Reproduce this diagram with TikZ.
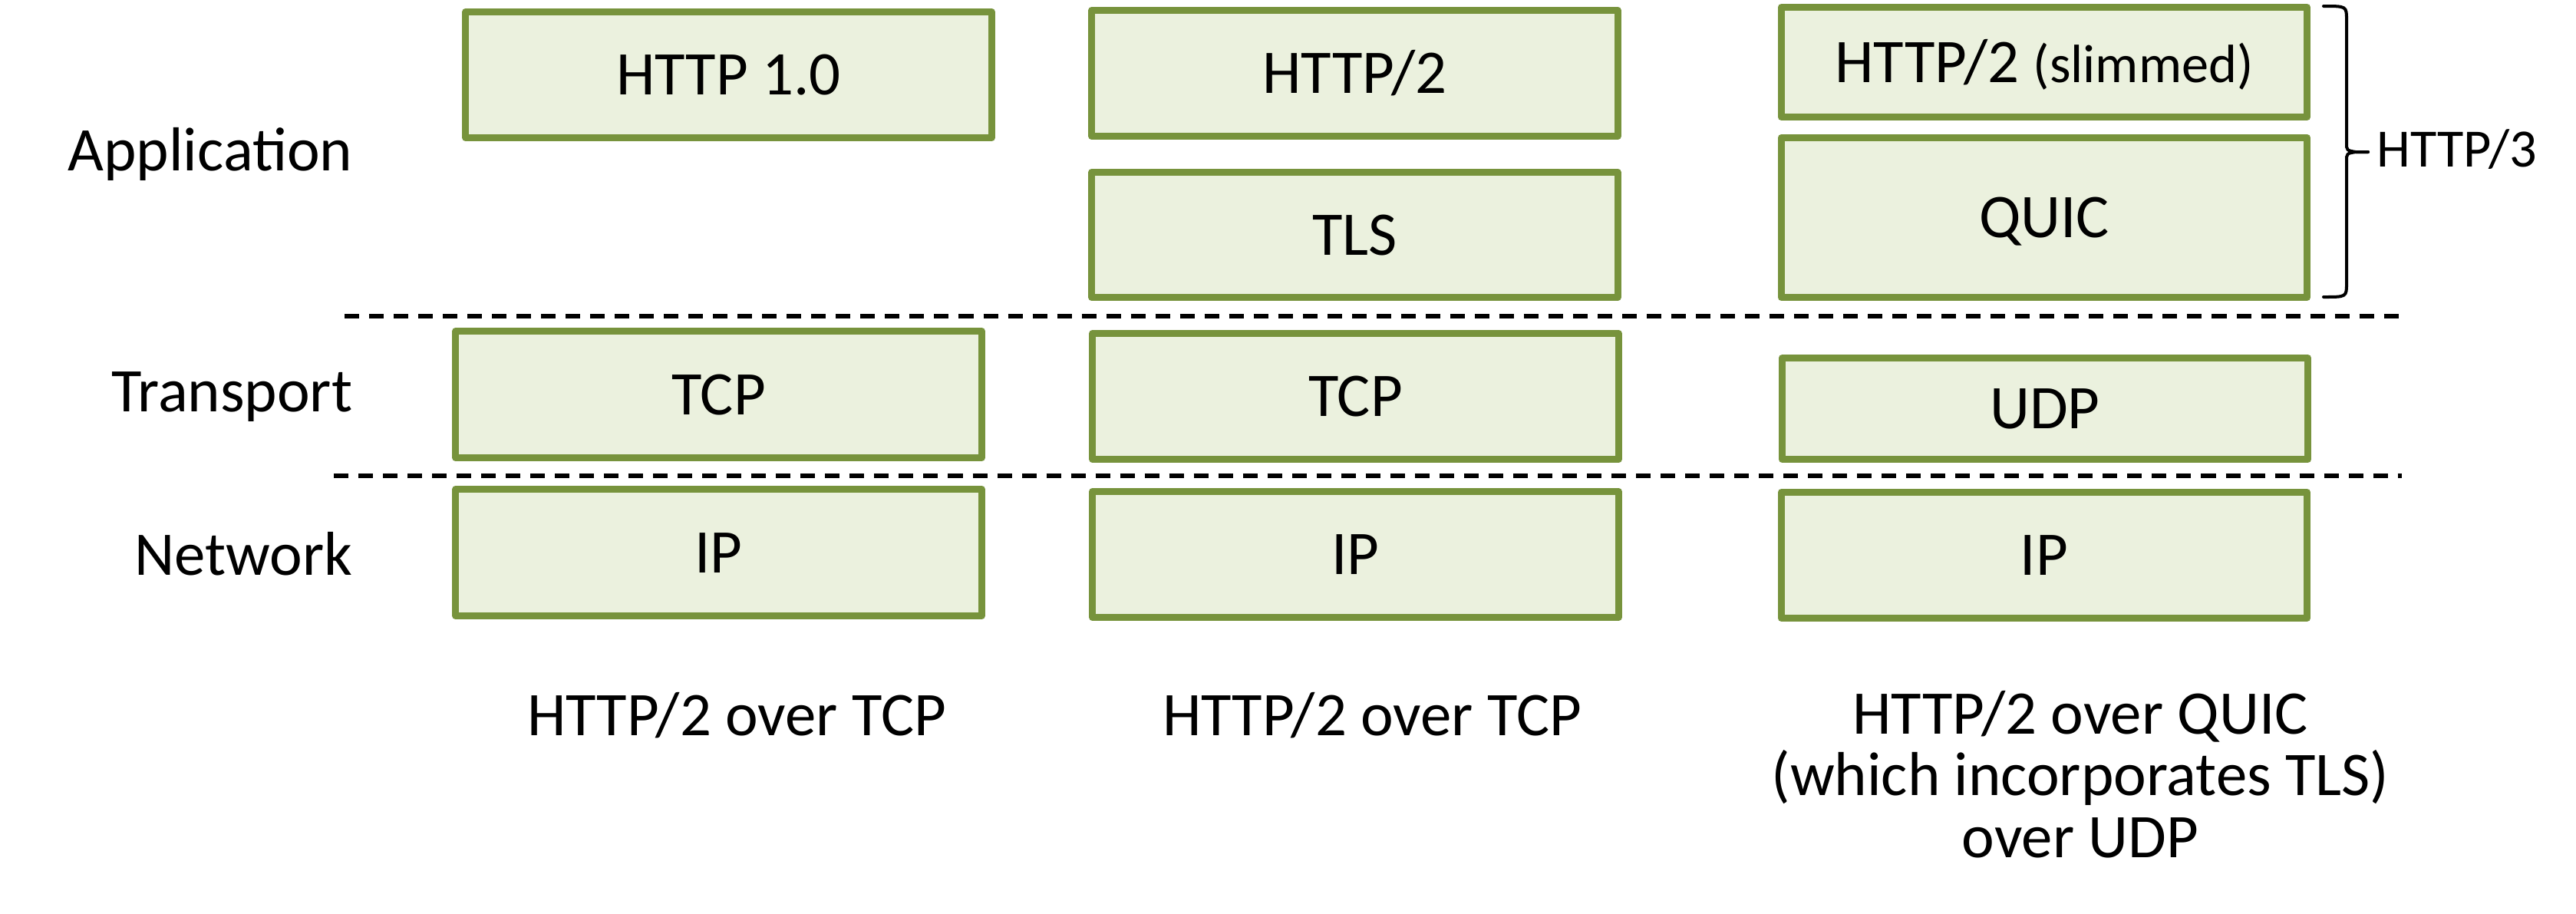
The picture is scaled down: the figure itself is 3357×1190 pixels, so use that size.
\documentclass[tikz,border=0pt]{standalone}
\usepackage{fontspec}
\setmainfont{Carlito}
\definecolor{olive}{HTML}{77933C}
\definecolor{olivefill}{HTML}{EBF1DE}
\newcommand{\capfont}{\fontsize{23pt}{22.8pt}\selectfont\setlength{\lineskiplimit}{-20pt}}

\begin{document}
\begin{tikzpicture}[
        x=0.01cm, y=-0.01cm,
        font=\fontsize{23pt}{22.8pt}\selectfont,
        layer/.style={draw=olive, fill=olivefill, line width=2.56pt, line join=round,
          minimum width=6.85cm, inner sep=0pt, text height=14.8pt, text depth=0pt},
        tier/.style={anchor=base east, inner sep=0pt},
        caption/.style={anchor=base, align=center, inner sep=0pt, font=\capfont},
        divider/.style={line width=1.56pt, dash pattern=on 0.19cm off 0.13cm}
      ]
      \useasboundingbox (0,0) rectangle (3357,1190);
      % layer names
      \node[tier] (app) at (460,222) {Application};
      \node[tier] (trans) at (460,536) {Transport};
      \node[tier] (net) at (460,749) {Network};
      % first stack
      \node[layer, minimum height=1.64cm] (h10) at (949.5,97.5) {HTTP 1.0};
      \node[layer, minimum height=1.65cm] (tcpA) at (936.5,514) {TCP};
      \node[layer, minimum height=1.65cm] (ipA) at (936.5,720) {IP};
      % second stack
      \node[layer, minimum height=1.64cm] (h2) at (1765.5,95.5) {HTTP/2};
      \node[layer, minimum height=1.63cm] (tls) at (1765.5,306) {TLS};
      \node[layer, minimum height=1.64cm] (tcpB) at (1766.5,516.5) {TCP};
      \node[layer, minimum height=1.64cm] (ipB) at (1766.5,722.5) {IP};
      % third stack
      \node[layer, minimum height=1.43cm] (h2s) at (2664,81)
        {HTTP/2 {\fontsize{20pt}{24pt}\selectfont (slimmed)}};
      \node[layer, minimum height=2.08cm] (quic) at (2664,283.5) {QUIC};
      \node[layer, minimum height=1.32cm] (udp) at (2665,532.5) {UDP};
      \node[layer, minimum height=1.64cm] (ipC) at (2664,723.5) {IP};
      % separators between layers
      \coordinate (d1a) at (449,412);
      \coordinate (d1b) at (3130,412);
      \coordinate (d2a) at (435,620);
      \coordinate (d2b) at (3130,620);
      \draw[divider] (d1a) -- (d1b);
      \draw[divider] (d2a) -- (d2b);
      % brace round the HTTP/3 part
      \coordinate (bt) at (3028,8);
      \coordinate (tip) at (3086,198);
      \coordinate (bb) at (3028,387);
      \draw[line width=1.14pt, line cap=round]
        (bt) .. controls (3058,8) .. (3058,26) -- (3058,186)
        .. controls (3058,196) .. (3070,198) -- (tip);
      \draw[line width=1.14pt, line cap=round]
        (tip) -- (3070,198) .. controls (3058,200) .. (3058,210) -- (3058,369)
        .. controls (3058,387) .. (bb);
      \node[anchor=base west, inner sep=0pt, font=\fontsize{20pt}{24pt}\selectfont] (h3) at (3097,217) {HTTP/3};
      % captions (base of a multi-line node is its last line)
      \node[caption] (capA) at (960,958) {HTTP/2 over TCP};
      \node[caption] (capB) at (1788,958) {HTTP/2 over TCP};
      \node[caption] (capC) at (2711,1117) {HTTP/2 over QUIC\\(which incorporates TLS)\\over UDP};
\end{tikzpicture}
\end{document}
